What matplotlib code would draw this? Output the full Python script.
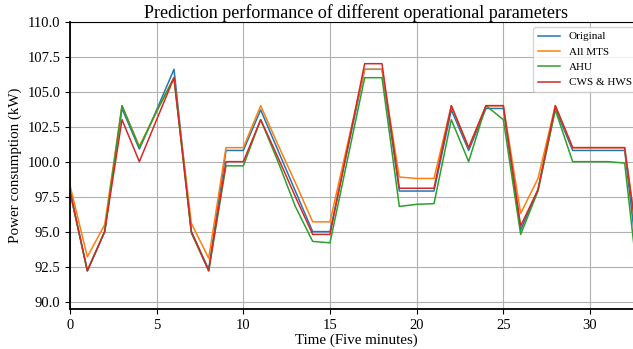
import matplotlib
matplotlib.use("Agg")
import matplotlib.pyplot as plt
import numpy as np

plt.rcParams["font.family"] = ["Liberation Serif", "DejaVu Serif"]

# power consumption (kW) per five-minute step
time_steps = np.arange(34)
original = [97.9, 92.2, 95.0, 103.8, 100.9, 103.7, 106.6, 95.0, 92.3, 100.8,
            100.8, 103.7, 100.8, 97.9, 95.0, 95.0, 100.8, 106.6, 106.6, 97.9,
            97.9, 97.9, 103.7, 100.8, 103.8, 103.8, 95.1, 98.0, 103.8, 100.8,
            100.8, 100.8, 100.8, 90.2]
all_mts = [98.3, 93.2, 95.5, 104.0, 101.1, 103.6, 106.0, 95.6, 93.1, 101.0,
           101.0, 104.0, 101.2, 98.5, 95.7, 95.7, 101.2, 106.6, 106.6, 98.9,
           98.8, 98.8, 104.0, 101.0, 104.0, 104.0, 96.3, 98.8, 104.0, 101.0,
           101.0, 101.0, 101.0, 92.0]
ahu = [97.8, 92.2, 95.0, 104.0, 101.0, 103.6, 106.0, 94.9, 92.2, 99.7,
       99.7, 103.0, 100.0, 96.8, 94.3, 94.2, 100.1, 106.0, 106.0, 96.8,
       96.95, 97.0, 103.0, 100.0, 104.0, 103.0, 94.8, 97.9, 103.7, 100.0,
       100.0, 100.0, 99.9, 88.9]
cws_hws = [97.9, 92.2, 95.0, 103.0, 100.0, 103.0, 106.0, 95.0, 92.2, 100.0,
           100.0, 103.0, 100.3, 97.5, 94.8, 94.8, 100.9, 107.0, 107.0, 98.1,
           98.1, 98.1, 104.0, 101.0, 104.0, 104.0, 95.4, 98.0, 104.0, 101.0,
           101.0, 101.0, 101.0, 91.8]

series = [("Original", original), ("All MTS", all_mts),
          ("AHU", ahu), ("CWS & HWS", cws_hws)]

fig = plt.figure(figsize=(6.33, 3.49), dpi=100)
ax = fig.add_axes([0.1106, 0.1138, 0.9036, 0.824])

for i, (name, vals) in enumerate(series):
    ax.plot(time_steps, vals, color=f"C{i}", lw=1.1, label=name)

ax.set_xlim(0, 33)
ax.set_ylim(89.45, 110.0)
ax.set_yticks(np.arange(90, 110.1, 2.5))
ax.set_xticks(np.arange(0, 31, 5))
ax.yaxis.set_major_formatter(matplotlib.ticker.FormatStrFormatter("%.1f"))
ax.tick_params(labelsize=10.5)
ax.grid(True, color="#b0b0b0", lw=0.8)
for sp in ("left", "bottom"):
    ax.spines[sp].set_linewidth(1.3)

ax.set_title("Prediction performance of different operational parameters",
             fontsize=13, pad=3)
ax.set_xlabel("Time (Five minutes)", fontsize=10.8, labelpad=1)
ax.set_ylabel("Power consumption (kW)", fontsize=10.8)
ax.legend(loc="upper right", fontsize=8)

fig.savefig("out.png", dpi=100)
